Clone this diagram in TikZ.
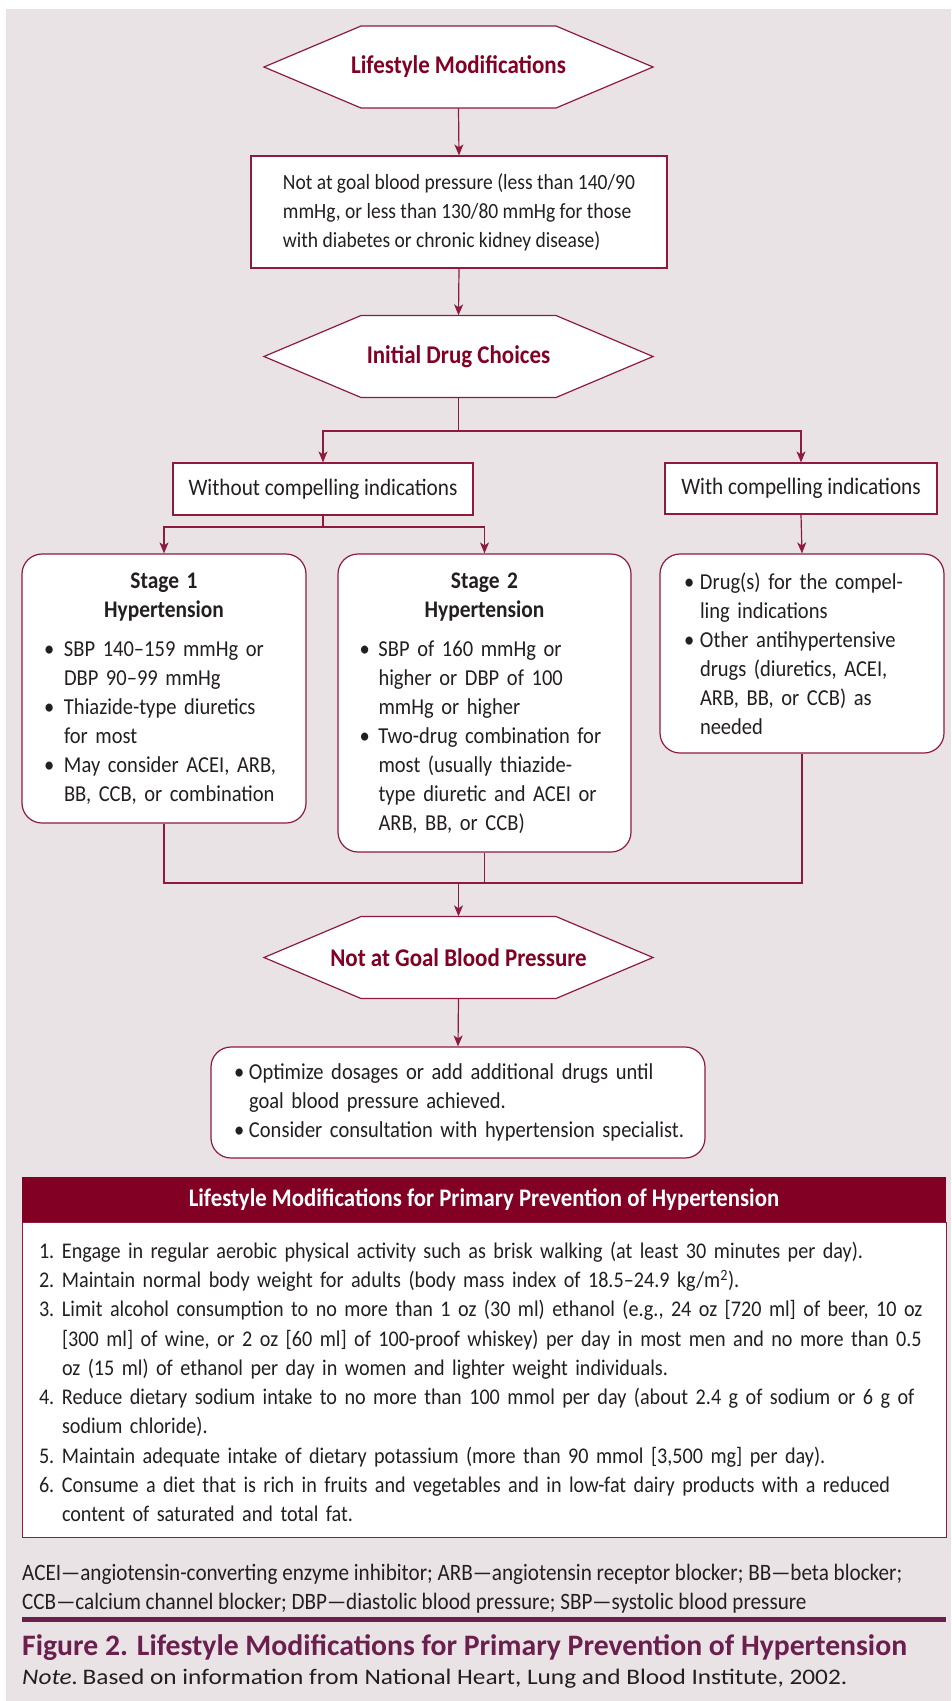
\documentclass[tikz,border=0pt]{standalone}
\usepackage{fontspec}
\setmainfont{Carlito}
\newfontfamily\condf{Carlito}[FakeStretch=0.9]
\newfontfamily\widef{Carlito}[FakeStretch=1.14]
\usetikzlibrary{arrows.meta,calc}
\definecolor{bgc}{HTML}{E9E3E5}
\definecolor{mar}{HTML}{820024}
\definecolor{lnc}{HTML}{8E1B3E}
\definecolor{pur}{HTML}{6B1F4F}
\definecolor{txt}{HTML}{231F20}
\newcommand\bitem[2][20pt]{\makebox[#1][l]{\textbullet}\mbox{#2}}
\newcommand\bcont[2][20pt]{\hspace*{#1}\mbox{#2}}
\newcommand\hexat[2]{\filldraw[draw=lnc,line width=1.2pt,fill=white] (#1-194.5,#2) -- (#1-97.5,#2-41) -- (#1+97.5,#2-41) -- (#1+194.5,#2) -- (#1+97.5,#2+41) -- (#1-97.5,#2+41) -- cycle;}
\newcommand\sttl[2]{\makebox[#1]{\fontsize{23.8}{29}\selectfont\bfseries #2}}
\begin{document}
\begin{tikzpicture}[x=1pt,y=-1pt,
  bodyfont/.style={font=\condf\fontsize{22.8}{29}\selectfont},
  ln/.style={draw=lnc,line width=1.2pt},
  arr/.style={ln,-{Stealth[length=11pt,width=9pt,inset=3pt]}},
  sqbox/.style={draw=lnc,line width=1.2pt,fill=white,text=txt,inner sep=0pt},
  rbox/.style={sqbox,rounded corners=20pt},
  hexbox/.style={inner sep=0pt,minimum width=389pt,minimum height=82pt,text=mar,font=\condf\fontsize{25.5}{30}\selectfont\bfseries},
]
\useasboundingbox (0,0) rectangle (951,1701);
\fill[white] (0,0) rectangle (951,1701);
\fill[bgc] (6,9) rectangle (951,1701);

% hexagons
\hexat{458.5}{67}
\hexat{458.5}{356.5}
\hexat{458.5}{957.5}
\node[hexbox] (h1) at (458.5,67) {Lifestyle Modifications};
\node[hexbox] (h2) at (458.5,356.5) {Initial Drug Choices};
\node[hexbox] (h3) at (458.5,957.5) {Not at Goal Blood Pressure};

% boxes
\node[sqbox,font=\condf\fontsize{21.7}{29}\selectfont,minimum width=416pt,minimum height=112pt,align=left] (b1) at (459,212)
 {Not at goal blood pressure (less than 140/90\\mmHg, or less than 130/80 mmHg for those\\with diabetes or chronic kidney disease)};
\node[sqbox,font=\condf\fontsize{23.6}{29}\selectfont,minimum width=300pt,minimum height=52pt] (wo) at (323,489) {Without compelling indications};
\node[sqbox,font=\condf\fontsize{23.6}{29}\selectfont,minimum width=272pt,minimum height=51pt] (wi) at (801,488.5) {With compelling indications};

\node[rbox,bodyfont,minimum width=284pt,minimum height=269pt,text width=240pt,align=left] (s1) at (164,688.5)
 {\sttl{240pt}{Stage 1}\\
  \sttl{240pt}{Hypertension}\\[10pt]
  \bitem{SBP 140–159 mmHg or}\\
  \bcont{DBP 90–99 mmHg}\\
  \bitem{Thiazide-type diuretics}\\
  \bcont{for most}\\
  \bitem{May consider ACEI, ARB,}\\
  \bcont{BB, CCB, or combination}};
\node[rbox,bodyfont,minimum width=293pt,minimum height=298pt,text width=250pt,align=left] (s2) at (484.5,703)
 {\sttl{250pt}{Stage 2}\\
  \sttl{250pt}{Hypertension}\\[10pt]
  \bitem[19pt]{SBP of 160 mmHg or}\\
  \bcont[19pt]{higher or DBP of 100}\\
  \bcont[19pt]{mmHg or higher}\\
  \bitem[19pt]{Two-drug combination for}\\
  \bcont[19pt]{most (usually thiazide-}\\
  \bcont[19pt]{type diuretic and ACEI or}\\
  \bcont[19pt]{ARB, BB, or CCB)}};
\node[rbox,bodyfont,minimum width=284pt,minimum height=199pt,text width=236pt,align=left] (s3) at (802,653.5)
 {\bitem[16pt]{Drug(s) for the compel-}\\
  \bcont[16pt]{ling indications}\\
  \bitem[16pt]{Other antihypertensive}\\
  \bcont[16pt]{drugs (diuretics, ACEI,}\\
  \bcont[16pt]{ARB, BB, or CCB) as}\\
  \bcont[16pt]{needed}};
\node[rbox,bodyfont,minimum width=494pt,minimum height=111pt,text width=448pt,align=left] (fin) at (458,1102.5)
 {\bitem[15pt]{Optimize dosages or add additional drugs until}\\
  \bcont[15pt]{goal blood pressure achieved.}\\
  \bitem[15pt]{Consider consultation with hypertension specialist.}};

% connectors
\draw[arr] (h1.south) -- (b1.north);
\draw[arr] (b1.south) -- (h2.north);
\coordinate (sp1) at (458.5,431);
\draw[ln] (h2.south) -- (sp1);
\draw[arr] (sp1) -| (wo.north);
\draw[arr] (sp1) -| (wi.north);
\coordinate (sp2) at (323,527);
\draw[ln] (wo.south) -- (sp2);
\draw[arr] (sp2) -| (s1.north);
\draw[arr] (sp2) -| (s2.north);
\draw[arr] (wi.south) -- (s3.north);
\coordinate (jn) at (458.5,883);
\draw[ln] (s1.south) |- (jn) -| (s3.south);
\draw[ln] (s2.south) -- (s2.south |- jn);
\draw[arr] (jn) -- (h3.north);
\draw[arr] (h3.south) -- (fin.north);

% lifestyle list
\node[fill=mar,minimum width=924pt,minimum height=45pt,inner sep=0pt,text=white,font=\condf\fontsize{25.3}{30}\selectfont\bfseries] (hd) at (484,1199.5)
 {Lifestyle Modifications for Primary Prevention of Hypertension};
\node[draw=lnc,line width=1pt,fill=white,minimum width=924pt,minimum height=315pt,inner sep=0pt] (lst) at (484,1379.5) {};
\node[text=txt,inner sep=0pt,text width=890pt,align=left,font=\condf\fontsize{22.4}{29.25}\selectfont] (lsttext) at (484,1382)
 {\makebox[23pt][l]{1.}\mbox{Engage in regular aerobic physical activity such as brisk walking (at least 30 minutes per day).}\\
  \makebox[23pt][l]{2.}\mbox{Maintain normal body weight for adults (body mass index of 18.5–24.9 kg/m\textsuperscript{2}).}\\
  \makebox[23pt][l]{3.}\mbox{Limit alcohol consumption to no more than 1 oz (30 ml) ethanol (e.g., 24 oz [720 ml] of beer, 10 oz}\\
  \hspace*{23pt}\mbox{[300 ml] of wine, or 2 oz [60 ml] of 100-proof whiskey) per day in most men and no more than 0.5}\\
  \hspace*{23pt}\mbox{oz (15 ml) of ethanol per day in women and lighter weight individuals.}\\
  \makebox[23pt][l]{4.}\mbox{Reduce dietary sodium intake to no more than 100 mmol per day (about 2.4 g of sodium or 6 g of}\\
  \hspace*{23pt}\mbox{sodium chloride).}\\
  \makebox[23pt][l]{5.}\mbox{Maintain adequate intake of dietary potassium (more than 90 mmol [3,500 mg] per day).}\\
  \makebox[23pt][l]{6.}\mbox{Consume a diet that is rich in fruits and vegetables and in low-fat dairy products with a reduced}\\
  \hspace*{23pt}\mbox{content of saturated and total fat.}};

% footnote and caption
\node[anchor=west,inner sep=0pt,text=txt,align=left,font=\condf\fontsize{23.5}{29}\selectfont] (abbr) at (22,1588.5)
 {ACEI—angiotensin-converting enzyme inhibitor; ARB—angiotensin receptor blocker; BB—beta blocker;\\
  CCB—calcium channel blocker; DBP—diastolic blood pressure; SBP—systolic blood pressure};
\fill[pur] (22,1617) rectangle (946,1621.5);
\node[anchor=west,inner sep=0pt,text=pur,font=\fontsize{29.7}{33}\selectfont\bfseries] (cap) at (22,1648)
 {Figure 2. Lifestyle Modifications for Primary Prevention of Hypertension};
\node[anchor=west,inner sep=0pt,text=txt,font=\widef\fontsize{22.2}{24}\selectfont] (note) at (22,1679)
 {\textit{Note.}\hspace{0.2em}Based on information from National Heart, Lung and Blood Institute, 2002.};
\end{tikzpicture}
\end{document}
